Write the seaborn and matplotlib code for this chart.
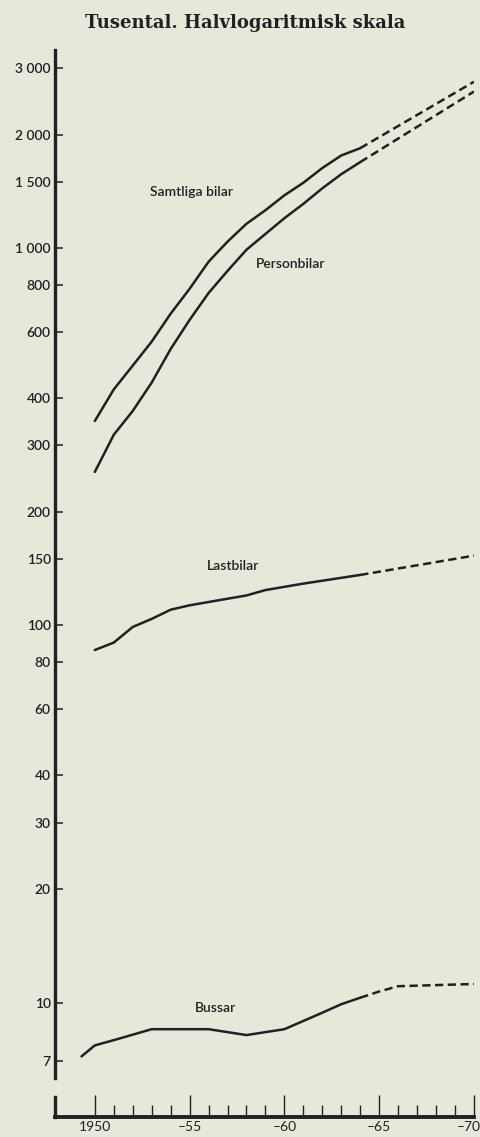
import matplotlib
matplotlib.use("Agg")
import matplotlib.pyplot as plt
import matplotlib.ticker as mticker
import matplotlib.transforms as mtransforms
import seaborn as sns

# Thousands of vehicles (semi-log scale)
years = [1950, 1951, 1952, 1953, 1954, 1955, 1956, 1957,
         1958, 1959, 1960, 1961, 1962, 1963, 1964]
samtliga = [348, 422, 488, 565, 670, 780, 920, 1040,
            1160, 1260, 1380, 1490, 1630, 1760, 1840]
personbilar = [255, 320, 370, 440, 540, 645, 760, 870,
               990, 1090, 1200, 1310, 1440, 1570, 1690]

last_years = [1950, 1951, 1952, 1953, 1954, 1955, 1958, 1959, 1961, 1964]
lastbilar = [86, 90, 99, 104, 110, 113, 120, 124, 129, 136]

buss_years = [1949.3, 1950, 1951, 1953, 1956, 1958, 1960, 1962, 1963, 1964]
bussar = [7.2, 7.7, 7.95, 8.5, 8.5, 8.2, 8.5, 9.4, 9.9, 10.3]

# prognoses (dashed)
proj_years = [1964, 1970]
samtliga_proj = [1840, 2760]
personbilar_proj = [1690, 2600]
lastbilar_proj = [136, 153]
buss_proj_years = [1964, 1965, 1966, 1970]
bussar_proj = [10.3, 10.7, 11.05, 11.2]

yticks = [7, 10, 20, 30, 40, 60, 80, 100, 150, 200, 300, 400,
          600, 800, 1000, 1500, 2000, 3000]
ytick_labels = ["7", "10", "20", "30", "40", "60", "80", "100", "150", "200",
                "300", "400", "600", "800", "1 000", "1 500", "2 000", "3 000"]
xticks = [1950, 1955, 1960, 1965, 1970]
xtick_labels = ["1950", "\u201355", "\u201360", "\u201365", "\u201370"]
minor_years = [y for y in range(1951, 1970) if y % 5]

BG = "#e7e7da"
INK = "#242021"

sns.set_theme(style="white")
plt.rcParams["font.family"] = ["Lato", "DejaVu Sans"]

W, H = 481, 1137
fig = plt.figure(figsize=(W / 100, H / 100), dpi=100, facecolor=BG)
ax = fig.add_axes([55 / W, 1 - 1078 / H, 419 / W, 1028 / H])
axx = fig.add_axes([55 / W, 1 - 1117 / H, 419 / W, 20 / H])
for a in (ax, axx):
    a.set_facecolor("none")
    a.set_xlim(1947.9, 1970)

solid = dict(color=INK, lw=1.8, ax=ax)
dash = dict(color=INK, lw=1.8, ax=ax, linestyle=(0, (3.3, 1.8)))

sns.lineplot(x=years, y=samtliga, **solid)
sns.lineplot(x=years, y=personbilar, **solid)
sns.lineplot(x=last_years, y=lastbilar, **solid)
sns.lineplot(x=buss_years, y=bussar, **solid)
sns.lineplot(x=proj_years, y=samtliga_proj, **dash)
sns.lineplot(x=proj_years, y=personbilar_proj, **dash)
sns.lineplot(x=proj_years, y=lastbilar_proj, **dash)
sns.lineplot(x=buss_proj_years, y=bussar_proj, **dash)

lab = dict(fontsize=10, color=INK, ha="left", va="center", fontweight="semibold")
ax.text(1952.9, 1408, "Samtliga bilar", **lab)
ax.text(1958.5, 907, "Personbilar", **lab)
ax.text(1955.9, 143.6, "Lastbilar", **lab)
ax.text(1955.3, 9.67, "Bussar", **lab)

ax.set_yscale("log")
ax.set_ylim(6.31, 3350)
ax.yaxis.set_major_locator(mticker.FixedLocator(yticks))
ax.yaxis.set_major_formatter(mticker.FixedFormatter(ytick_labels))
ax.yaxis.set_minor_locator(mticker.NullLocator())
ax.set_xticks([])
ax.set_xlabel("")
ax.set_ylabel("")
for s in ["top", "right", "bottom"]:
    ax.spines[s].set_visible(False)
ax.spines["left"].set_linewidth(2.4)
ax.spines["left"].set_color(INK)
ax.tick_params(axis="y", left=True, direction="in", length=6, width=1.1,
               pad=3, labelsize=10, colors=INK)
for t in ax.get_yticklabels():
    t.set_fontweight("semibold")

# separate year axis below
axx.set_ylim(0, 1)
axx.set_yticks([])
axx.set_xticks(xticks)
axx.set_xticklabels(xtick_labels)
axx.set_xticks(minor_years, minor=True)
for s in ["top", "right"]:
    axx.spines[s].set_visible(False)
axx.spines["bottom"].set_linewidth(2.8)
axx.spines["left"].set_linewidth(2.4)
for s in ["bottom", "left"]:
    axx.spines[s].set_color(INK)
axx.tick_params(axis="x", which="major", bottom=True, direction="in",
                length=16, width=1, pad=3, labelsize=10, colors=INK)
axx.tick_params(axis="x", which="minor", bottom=True, direction="in",
                length=8.5, width=1, colors=INK)
shift = mtransforms.ScaledTranslation(-5 / 100, 0, fig.dpi_scale_trans)
last = axx.get_xticklabels()[-1]
last.set_transform(last.get_transform() + shift)

fig.text(245 / W, 1 - 23 / H, "Tusental. Halvlogaritmisk skala",
         family="DejaVu Serif", fontsize=13, fontweight="bold", color=INK,
         ha="center", va="center")

fig.savefig("out.png", dpi=100, facecolor=BG)
